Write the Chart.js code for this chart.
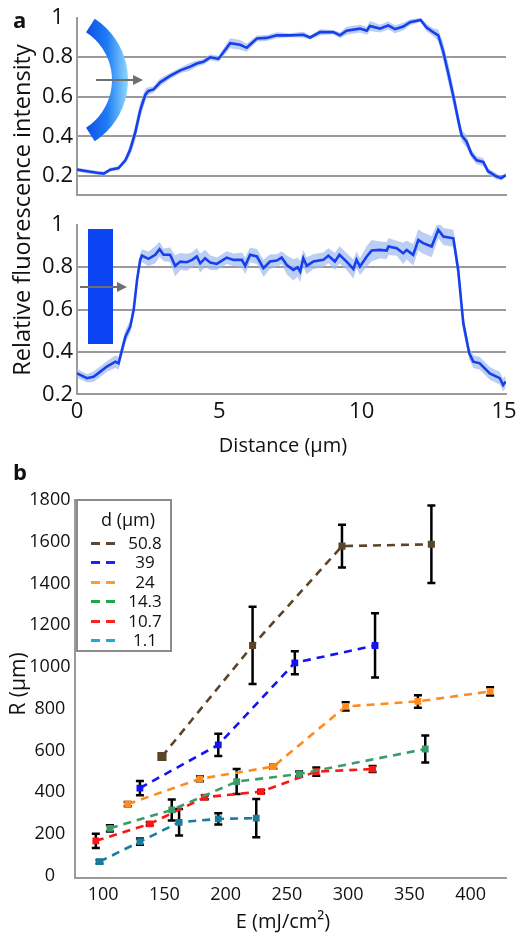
<!DOCTYPE html>
<html>
<head>
<meta charset="utf-8">
<script src="https://cdn.jsdelivr.net/npm/chart.js@4.4.1/dist/chart.umd.min.js"></script>
<style>
    body { margin: 0; background: #fff; }
    #wrap { position: relative; width: 527px; height: 941px; overflow: hidden; font-family: "Open Sans", Lato, sans-serif; color: #111; }
    #wrap canvas { position: absolute; left: 0; }
    .lbl { position: absolute; white-space: nowrap; line-height: 1; }
    .mid { transform: translate(-50%, -50%); }
    .rot { transform: translate(-50%, -50%) rotate(-90deg); }
    .panel { font-weight: 700; font-size: 22px; }
    #legend { position: absolute; left: 76px; top: 499px; width: 96px; height: 153px; border: 2px solid #8c8c8c; box-sizing: border-box; }
    #legend .ttl { position: absolute; left: 0; width: 100%; top: 7px; text-align: center; font-size: 18px; padding-left: 8px; box-sizing: border-box; line-height: 22px; }
    #legend .row { position: absolute; left: 0; width: 100%; height: 19px; }
    #legend .dash { position: absolute; top: 9px; width: 9px; height: 3px; }
    #legend .val { position: absolute; left: 44px; width: 46px; text-align: center; font-size: 17px; top: 0; line-height: 19px; }
</style>
</head>
<body>
<div id="wrap">
    <canvas id="profTop" width="527" height="212" style="top:0"></canvas>
    <canvas id="profBot" width="527" height="260" style="top:200px"></canvas>
    <canvas id="growth" width="527" height="486" style="top:455px"></canvas>

    <div class="lbl panel" style="left:13px;top:8px">a</div>
    <div class="lbl panel" style="left:13px;top:460px">b</div>
    <div class="lbl rot" style="left:22px;top:210px;font-size:23.5px">Relative fluorescence intensity</div>
    <div class="lbl mid" style="left:283px;top:445px;font-size:20px">Distance (µm)</div>
    <div class="lbl rot" style="left:17px;top:684px;font-size:21px">R (µm)</div>
    <div class="lbl mid" style="left:283px;top:921px;font-size:20px">E (mJ/cm²)</div>
    <div id="legend"><div class="ttl">d (µm)</div></div>
</div>

<script>
// ---- panel a: intensity profiles ----
const distTicks = [0, 5, 10, 15];
const intensityTicks = [0.2, 0.4, 0.6, 0.8, 1];

// curved emitter profile
const curvedX = [0, 0.35, 0.70, 0.94, 1.17, 1.46, 1.70, 1.87, 2.05, 2.22, 2.40, 2.51, 2.69, 2.92, 3.27,
    3.63, 3.98, 4.21, 4.44, 4.68, 4.97, 5.38, 5.73, 5.96, 6.32, 6.67, 7.02, 7.48, 7.95, 8.19,
    8.54, 9.0, 9.24, 9.47, 9.94, 10.18, 10.29, 10.64, 10.93, 11.17, 11.46, 11.70, 12.07, 12.28, 12.51,
    12.69, 12.86, 13.04, 13.21, 13.39, 13.51, 13.68, 13.86, 14.04, 14.27, 14.44, 14.74, 14.91, 15.06];
const curvedY = [0.232, 0.224, 0.216, 0.212, 0.232, 0.240, 0.279, 0.334, 0.421, 0.531, 0.610, 0.629, 0.637, 0.673, 0.705,
    0.733, 0.752, 0.768, 0.776, 0.799, 0.791, 0.870, 0.862, 0.847, 0.894, 0.897, 0.910, 0.910, 0.913, 0.899,
    0.926, 0.926, 0.910, 0.933, 0.944, 0.933, 0.957, 0.944, 0.960, 0.941, 0.954, 0.976, 0.988, 0.949, 0.926,
    0.910, 0.831, 0.720, 0.610, 0.484, 0.405, 0.374, 0.311, 0.279, 0.271, 0.224, 0.197, 0.189, 0.205];
const curvedSpread = [0.01, 0.01, 0.01, 0.01, 0.01, 0.01, 0.015, 0.03, 0.04, 0.04, 0.03, 0.02, 0.015, 0.02, 0.015,
    0.015, 0.02, 0.015, 0.015, 0.015, 0.015, 0.025, 0.025, 0.02, 0.015, 0.015, 0.015, 0.01, 0.015, 0.01,
    0.015, 0.01, 0.015, 0.02, 0.02, 0.02, 0.025, 0.02, 0.02, 0.02, 0.02, 0.015, 0.01, 0.02, 0.02,
    0.03, 0.045, 0.05, 0.045, 0.04, 0.03, 0.03, 0.02, 0.02, 0.02, 0.015, 0.015, 0.01, 0.01];

// flat emitter profile
const flatX = [0, 0.35, 0.58, 0.82, 1.05, 1.35, 1.46, 1.58, 1.70, 1.87, 1.99, 2.11, 2.22, 2.28, 2.51,
    2.75, 2.90, 3.04, 3.27, 3.45, 3.63, 3.86, 4.04, 4.21, 4.33, 4.50, 4.68, 4.91, 5.26, 5.50,
    5.79, 5.91, 6.08, 6.32, 6.55, 6.78, 7.02, 7.19, 7.37, 7.60, 7.75, 7.84, 7.95, 8.07, 8.30,
    8.65, 8.83, 9.06, 9.22, 9.47, 9.71, 9.82, 9.94, 10.18, 10.35, 10.64, 10.88, 10.94, 11.23, 11.46,
    11.58, 11.81, 11.99, 12.16, 12.46, 12.69, 12.87, 13.22, 13.39, 13.57, 13.78, 13.92, 14.15, 14.50, 14.85,
    14.97, 15.06];
const flatY = [0.299, 0.276, 0.283, 0.307, 0.331, 0.354, 0.346, 0.409, 0.472, 0.519, 0.598, 0.740, 0.834, 0.854, 0.839,
    0.858, 0.884, 0.858, 0.858, 0.806, 0.826, 0.823, 0.834, 0.850, 0.818, 0.842, 0.821, 0.815, 0.845, 0.834,
    0.834, 0.806, 0.858, 0.850, 0.795, 0.826, 0.831, 0.845, 0.810, 0.787, 0.799, 0.779, 0.842, 0.806, 0.826,
    0.834, 0.854, 0.826, 0.858, 0.826, 0.791, 0.834, 0.803, 0.850, 0.878, 0.881, 0.878, 0.897, 0.889, 0.865,
    0.881, 0.858, 0.928, 0.913, 0.897, 0.976, 0.944, 0.936, 0.787, 0.535, 0.393, 0.354, 0.346, 0.299, 0.276,
    0.244, 0.260];
const flatSpread = [0.02, 0.02, 0.025, 0.025, 0.025, 0.03, 0.03, 0.03, 0.03, 0.03, 0.03, 0.03, 0.03, 0.03, 0.035,
    0.04, 0.035, 0.03, 0.035, 0.05, 0.04, 0.04, 0.035, 0.04, 0.045, 0.04, 0.035, 0.03, 0.03, 0.03,
    0.035, 0.04, 0.035, 0.035, 0.04, 0.035, 0.03, 0.03, 0.045, 0.05, 0.045, 0.05, 0.04, 0.04, 0.035,
    0.035, 0.035, 0.04, 0.04, 0.04, 0.045, 0.04, 0.04, 0.05, 0.05, 0.04, 0.04, 0.04, 0.035, 0.05,
    0.045, 0.05, 0.05, 0.05, 0.05, 0.04, 0.04, 0.04, 0.05, 0.04, 0.03, 0.03, 0.03, 0.03, 0.03,
    0.03, 0.03];

// ---- panel b: R vs E ----
const energyTicks = [100, 150, 200, 250, 300, 350, 400];
const radiusTicks = [0, 200, 400, 600, 800, 1000, 1200, 1400, 1600, 1800];
const seriesNames = ['50.8', '39', '24', '14.3', '10.7', '1.1'];
const lineColors = ['#5b4526', '#1414f0', '#ff8a1e', '#3a9b6b', '#ff1414', '#1a7c9c'];
const legendColors = ['#5d4a2e', '#1a22ff', '#ff9a2e', '#1faa4a', '#ff2020', '#22aad0'];

const e508 = [148, 222, 295, 368];
const r508 = [571, 1103, 1579, 1588];
const sd508 = [0, 185, 102, 186];
const e39 = [130, 194, 256.5, 322];
const r39 = [420, 627, 1020, 1103];
const sd39 = [34, 53, 55, 154];
const e24 = [120, 179, 239, 298, 357, 416];
const r24 = [343, 464, 523, 811, 835, 883];
const sd24 = [10, 12, 10, 20, 30, 20];
const e143 = [105.5, 156, 209, 260, 363];
const r143 = [227, 315, 451, 487, 607];
const sd143 = [15, 50, 60, 12, 65];
const e107 = [94, 138, 183, 229, 274, 320];
const r107 = [167, 248, 376, 403, 499, 511];
const sd107 = [34, 8, 10, 8, 20, 14];
const e11 = [97, 130, 162, 194, 225];
const r11 = [67, 163, 256, 272, 276];
const sd11 = [8, 15, 63, 27, 92];

const seriesE = [e508, e39, e24, e143, e107, e11];
const seriesR = [r508, r39, r24, r143, r107, r11];
const seriesSd = [sd508, sd39, sd24, sd143, sd107, sd11];

const LINE = '#1640ee';
const BAND = 'rgba(160,185,240,0.7)';
const GRID = '#9a9a9a';
const FONT = 'Open Sans';

function pts(xs, ys, off, sign) {
    return xs.map((x, i) => ({ x, y: ys[i] + (off ? sign * off[i] : 0) }));
}

function profileDatasets(xs, ys, spread) {
    return [
        { data: pts(xs, ys), borderColor: LINE, borderWidth: 2.6, pointRadius: 0, fill: false },
        { data: pts(xs, ys, spread, -1), borderColor: 'transparent', borderWidth: 0, pointRadius: 0, fill: false },
        { data: pts(xs, ys, spread, 1), borderColor: 'transparent', borderWidth: 0, pointRadius: 0, fill: '-1', backgroundColor: BAND }
    ];
}

function drawArrow(ctx, x1, x2, y) {
    ctx.save();
    ctx.strokeStyle = '#6e6e6e';
    ctx.fillStyle = '#6e6e6e';
    ctx.lineWidth = 2;
    ctx.beginPath(); ctx.moveTo(x1, y); ctx.lineTo(x2 - 8, y); ctx.stroke();
    ctx.beginPath(); ctx.moveTo(x2, y); ctx.lineTo(x2 - 10, y - 5); ctx.lineTo(x2 - 10, y + 5); ctx.closePath(); ctx.fill();
    ctx.restore();
}

// icons drawn over panel a
const curvedIcon = {
    id: 'curvedIcon',
    afterDraw(chart) {
        const ctx = chart.ctx;
        const cx = 55, cy = 80, a = 57 * Math.PI / 180;
        const g = ctx.createLinearGradient(82, 0, 128, 0);
        g.addColorStop(0, '#0b45e6');
        g.addColorStop(0.55, '#1f7df5');
        g.addColorStop(1, '#8fd8ff');
        ctx.save();
        ctx.beginPath();
        ctx.arc(cx, cy, 73, -a, a);
        ctx.arc(cx, cy, 57, a, -a, true);
        ctx.closePath();
        ctx.fillStyle = g;
        ctx.fill();
        ctx.restore();
        drawArrow(ctx, 96, 143, 80);
    }
};
const flatIcon = {
    id: 'flatIcon',
    afterDraw(chart) {
        const ctx = chart.ctx;
        ctx.save();
        ctx.fillStyle = '#0b44f2';
        ctx.fillRect(88, 29, 25, 115);
        ctx.restore();
        drawArrow(ctx, 80, 127, 87);
    }
};

function profileOptions(showX, xHeight, padTop, yMin) {
    return {
        responsive: false,
        animation: false,
        layout: { autoPadding: false, padding: { top: padTop, right: 21, left: 0, bottom: 0 } },
        plugins: { legend: { display: false }, tooltip: { enabled: false } },
        scales: {
            x: {
                type: 'linear', min: 0, max: 15.07,
                afterBuildTicks: s => { s.ticks = distTicks.map(v => ({ value: v })); },
                afterFit: s => { s.height = xHeight; },
                grid: { display: false, drawTicks: false },
                border: { color: GRID, width: 2 },
                ticks: { display: showX, padding: 4, color: '#111', font: { family: FONT, size: 22 }, callback: v => String(v) }
            },
            y: {
                min: yMin, max: 1,
                afterBuildTicks: s => { s.ticks = intensityTicks.map(v => ({ value: v })); },
                afterFit: s => { s.width = 77; },
                grid: { drawTicks: false, lineWidth: 2, color: c => (c.tick && (c.tick.value === 1 || c.tick.value === yMin)) ? 'rgba(0,0,0,0)' : GRID },
                border: { color: GRID, width: 2 },
                ticks: { padding: 4, crossAlign: 'center', color: '#111', font: { family: FONT, size: 22 }, callback: v => String(v) }
            }
        }
    };
}

new Chart(document.getElementById('profTop'), {
    type: 'line',
    data: { datasets: profileDatasets(curvedX, curvedY, curvedSpread) },
    options: profileOptions(false, 5.3, 17.5, 0.105),
    plugins: [curvedIcon]
});

new Chart(document.getElementById('profBot'), {
    type: 'line',
    data: { datasets: profileDatasets(flatX, flatY, flatSpread) },
    options: profileOptions(true, 65.7, 24.7, 0.2),
    plugins: [flatIcon]
});

// error bars for panel b, placed through the chart's scales
const errorBars = {
    id: 'errorBars',
    beforeDatasetsDraw(chart) {
        const { ctx, scales: { x, y } } = chart;
        ctx.save();
        ctx.strokeStyle = '#000';
        ctx.lineWidth = 2.5;
        seriesE.forEach((es, s) => {
            es.forEach((e, i) => {
                const sd = seriesSd[s][i];
                if (!sd) return;
                const px = x.getPixelForValue(e);
                const top = y.getPixelForValue(seriesR[s][i] + sd);
                const bot = y.getPixelForValue(seriesR[s][i] - sd);
                ctx.beginPath();
                ctx.moveTo(px, top); ctx.lineTo(px, bot);
                ctx.moveTo(px - 4, top); ctx.lineTo(px + 4, top);
                ctx.moveTo(px - 4, bot); ctx.lineTo(px + 4, bot);
                ctx.stroke();
            });
        });
        ctx.restore();
    }
};

new Chart(document.getElementById('growth'), {
    type: 'line',
    data: {
        datasets: seriesNames.map((name, s) => ({
            label: name,
            data: pts(seriesE[s], seriesR[s]),
            borderColor: lineColors[s],
            backgroundColor: lineColors[s],
            borderWidth: 2.6,
            borderDash: [8, 6],
            pointStyle: 'rect',
            pointRadius: s === 0 ? [6.5, 5, 5, 5] : 4.8,
            pointBorderWidth: 0,
            fill: false
        }))
    },
    options: {
        responsive: false,
        animation: false,
        layout: { autoPadding: false, padding: { top: 45, right: 20.3, left: 0, bottom: 0 } },
        plugins: { legend: { display: false }, tooltip: { enabled: false } },
        scales: {
            x: {
                type: 'linear', min: 77, max: 429.5,
                afterBuildTicks: s => { s.ticks = energyTicks.map(v => ({ value: v })); },
                afterFit: s => { s.height = 63; },
                grid: { display: false, drawTicks: false },
                border: { color: GRID, width: 2 },
                ticks: { padding: 6, color: '#111', font: { family: FONT, size: 18 }, callback: v => String(v) }
            },
            y: {
                min: -11, max: 1800,
                afterBuildTicks: s => { s.ticks = radiusTicks.map(v => ({ value: v })); },
                afterFit: s => { s.width = 75; },
                grid: { display: false, drawTicks: false },
                border: { color: GRID, width: 2 },
                ticks: { padding: 4.5, crossAlign: 'center', color: '#111', font: { family: FONT, size: 18 }, callback: v => String(v) }
            }
        }
    },
    plugins: [errorBars]
});

// legend box
const legend = document.getElementById('legend');
seriesNames.forEach((name, s) => {
    const row = document.createElement('div');
    row.className = 'row';
    row.style.top = (32 + s * 19.4) + 'px';
    row.innerHTML = `<span class="dash" style="left:13px;background:${legendColors[s]}"></span>` +
        `<span class="dash" style="left:28px;background:${legendColors[s]}"></span>` +
        `<span class="val">${name}</span>`;
    legend.appendChild(row);
});
</script>
</body>
</html>
